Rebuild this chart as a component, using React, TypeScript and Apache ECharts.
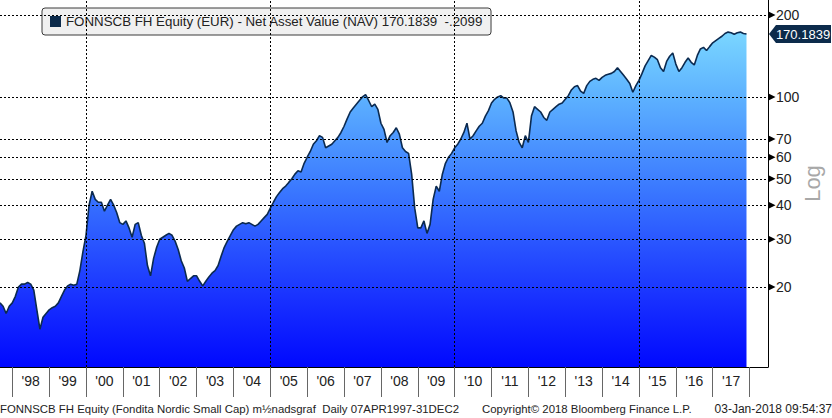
import React, { useEffect, useRef } from 'react';
import * as echarts from 'echarts';

const SERIES_NAME = 'FONNSCB FH Equity (EUR) - Net Asset Value (NAV)';
const LAST_PRICE = '170.1839';
const LAST_CHANGE = '-.2099';

// Monthly NAV (EUR), Sep 1997 .. Dec 2017
const nav1997 = [17.5, 17, 16, 17];
const nav1998 = [17.5, 18.5, 20, 20.5, 20.5, 20.8, 20.5, 19.5, 16.5, 14, 15.5, 16];
const nav1999 = [16.5, 16.8, 17, 17.5, 18.5, 19.5, 20.2, 20.5, 20.3, 20.5, 23, 27];
const nav2000 = [31, 40, 45, 42, 41, 41, 38, 40, 42, 40, 37.5, 34.5];
const nav2001 = [34, 35, 33, 30.5, 34, 34.5, 31, 29, 24, 22, 25.5, 28];
const nav2002 = [30, 30.5, 31, 31.5, 31, 29.5, 27.5, 25, 23.5, 21, 21.5, 22];
const nav2003 = [22, 21, 20.2, 21, 21.8, 22.5, 23, 24, 26, 28, 29.5, 31];
const nav2004 = [32.5, 33.5, 34, 34.5, 34.2, 34.5, 34, 33.5, 34, 35, 36, 37];
const nav2005 = [39, 41, 43, 44.5, 46, 47, 48.5, 50, 52, 53.5, 53, 57];
const nav2006 = [60, 63, 67, 69, 72, 71, 65, 66, 67, 69, 71, 74];
const nav2007 = [78, 83, 88, 91, 94, 97, 100, 102, 97, 92, 94, 90];
const nav2008 = [80, 76, 68, 72, 74, 77, 73, 65, 63, 62, 52, 39];
const nav2009 = [33, 33, 35, 31.5, 34, 42, 47, 45, 52, 57, 60, 62];
const nav2010 = [65, 67, 70, 74, 80, 70, 72, 75, 78, 80, 85, 89];
const nav2011 = [95, 98, 100, 101, 99, 99, 95, 88, 75, 68, 65, 72];
const nav2012 = [68, 85, 92, 90, 88, 84, 82, 88, 90, 92, 94, 95];
const nav2013 = [98, 101, 106, 109, 110, 105, 103, 110, 114, 116, 117, 115];
const nav2014 = [118, 120, 121, 122, 124, 128, 124, 120, 116, 112, 104, 110];
const nav2015 = [115, 122, 130, 136, 142, 140, 137, 128, 124, 135, 141, 145];
const nav2016 = [132, 124, 128, 134, 139, 134, 131, 142, 150, 152, 148, 153];
const nav2017 = [158, 161, 164, 167, 171, 173, 172, 170, 172, 173, 171, 170.1839];

const yTicks = [20, 30, 40, 50, 60, 70, 100, 200];
const gridMonths = ['2000-01', '2005-01', '2010-01', '2015-01'];
const lastLabelYear = 2017;

const FOOTER_LEFT = 'FONNSCB FH Equity (Fondita Nordic Small Cap) m½nadsgraf  Daily 07APR1997-31DEC2';
const FOOTER_MID = 'Copyright© 2018 Bloomberg Finance L.P.';
const FOOTER_RIGHT = '03-Jan-2018 09:54:37';

const navValues = [
  ...nav1997, ...nav1998, ...nav1999, ...nav2000, ...nav2001, ...nav2002, ...nav2003,
  ...nav2004, ...nav2005, ...nav2006, ...nav2007, ...nav2008, ...nav2009, ...nav2010,
  ...nav2011, ...nav2012, ...nav2013, ...nav2014, ...nav2015, ...nav2016, ...nav2017,
];

const categories: string[] = [];
for (let y = 1997; y <= 2018; y++) {
  for (let m = 1; m <= 12; m++) {
    if (y === 1997 && m < 9) continue;
    if (y === 2018 && m > 7) continue;
    categories.push(`${y}-${String(m).padStart(2, '0')}`);
  }
}

const FONT = "'Liberation Sans', Arial, sans-serif";

export default function App() {
  const ref = useRef<HTMLDivElement>(null);
  useEffect(() => {
    if (!ref.current) return;
    const chart = echarts.init(ref.current, undefined, { renderer: 'svg' });
    const lastCat = categories[categories.length - 1];
    const lastVal = navValues[navValues.length - 1];
    chart.setOption({
      animation: false,
      backgroundColor: '#ffffff',
      textStyle: { fontFamily: FONT },
      grid: { left: 0, right: 64, top: 0, bottom: 51, containLabel: false, outerBoundsMode: 'none' },
      legend: {
        left: 42,
        top: 8,
        selectedMode: false,
        backgroundColor: '#f0f0f0',
        borderColor: '#3a3a3a',
        borderWidth: 1,
        borderRadius: 3,
        padding: [7, 8, 7, 8],
        itemWidth: 11,
        itemHeight: 11,
        data: [{ name: SERIES_NAME, icon: 'rect', itemStyle: { color: '#0c2b4b' } }],
        formatter: (n: string) => `${n} ${LAST_PRICE}\u00a0\u00a0${LAST_CHANGE}`,
        textStyle: { fontSize: 13.3, color: '#222', fontFamily: FONT },
      },
      xAxis: {
        type: 'category',
        data: categories,
        boundaryGap: false,
        axisLine: { show: true, lineStyle: { color: '#000', width: 1 } },
        axisTick: {
          show: true,
          length: 30,
          interval: (_i: number, v: string) => v.endsWith('-01'),
          lineStyle: { color: '#666', width: 1 },
        },
        axisLabel: {
          show: true,
          interval: (_i: number, v: string) => v.endsWith('-07') && Number(v.slice(0, 4)) <= lastLabelYear,
          formatter: (v: string) => "'" + v.slice(2, 4),
          margin: 7,
          fontSize: 14,
          color: '#222',
          fontFamily: FONT,
        },
        splitLine: { show: false },
      },
      yAxis: {
        type: 'log',
        logBase: 10,
        min: 10.17,
        max: 227,
        position: 'right',
        axisLine: { show: true, lineStyle: { color: '#000', width: 1 } },
        axisTick: { show: false },
        axisLabel: { show: false },
        splitLine: { show: false },
        name: 'Log',
        nameLocation: 'middle',
        nameRotate: 90,
        nameGap: 33,
        nameTextStyle: { color: '#a8a8a8', fontSize: 22, fontFamily: FONT },
      },
      series: [
        {
          name: SERIES_NAME,
          type: 'line',
          data: navValues,
          clip: false,
          showSymbol: false,
          symbol: 'none',
          itemStyle: { color: '#0c2b4b' },
          lineStyle: { color: '#0b2a50', width: 1.6 },
          areaStyle: {
            opacity: 1,
            color: new echarts.graphic.LinearGradient(0, 0, 0, 1, [
              { offset: 0, color: '#7ad6ff' },
              { offset: 0.2, color: '#5cb0ff' },
              { offset: 0.47, color: '#3a78ff' },
              { offset: 0.8, color: '#1830ff' },
              { offset: 1, color: '#0008ff' },
            ]),
          },
          markLine: {
            silent: true,
            symbol: ['none', 'triangle'],
            symbolSize: 7,
            symbolOffset: [0, [0, -4]],
            lineStyle: { color: '#000', width: 1, type: [2, 2] },
            label: {
              show: true,
              position: 'end',
              distance: 8,
              color: '#222',
              fontSize: 14,
              fontFamily: FONT,
              formatter: (p: any) => String(p.value),
            },
            emphasis: { disabled: true },
            data: [
              ...yTicks.map((v) => ({ yAxis: v })),
              ...gridMonths.map((m) => ({ xAxis: m, symbol: 'none', label: { show: false } })),
            ],
          },
          markPoint: {
            silent: true,
            symbol: 'path://M0,9L7,0L62,0L62,18L7,18Z',
            symbolSize: [62, 18],
            symbolOffset: [32, 0],
            itemStyle: { color: '#0c2b4b' },
            label: {
              show: true,
              position: 'inside',
              offset: [3, 0],
              color: '#fff',
              fontSize: 13,
              fontFamily: FONT,
              formatter: () => LAST_PRICE,
            },
            data: [{ coord: [lastCat, lastVal], value: lastVal }],
          },
        },
      ],
      graphic: [
        {
          type: 'text',
          left: 0,
          top: 403,
          style: { text: FOOTER_LEFT, fill: '#222', font: `11.4px ${FONT}` },
        },
        {
          type: 'text',
          left: 482,
          top: 403,
          style: { text: FOOTER_MID, fill: '#222', font: `11.4px ${FONT}` },
        },
        {
          type: 'text',
          right: 0,
          top: 403,
          style: { text: FOOTER_RIGHT, fill: '#222', font: `12px ${FONT}` },
        },
      ],
    });
    return () => chart.dispose();
  }, []);
  return (
    <div
      ref={ref}
      style={{ position: 'fixed', left: 0, top: 0, width: 832, height: 418, background: '#fff' }}
    />
  );
}
